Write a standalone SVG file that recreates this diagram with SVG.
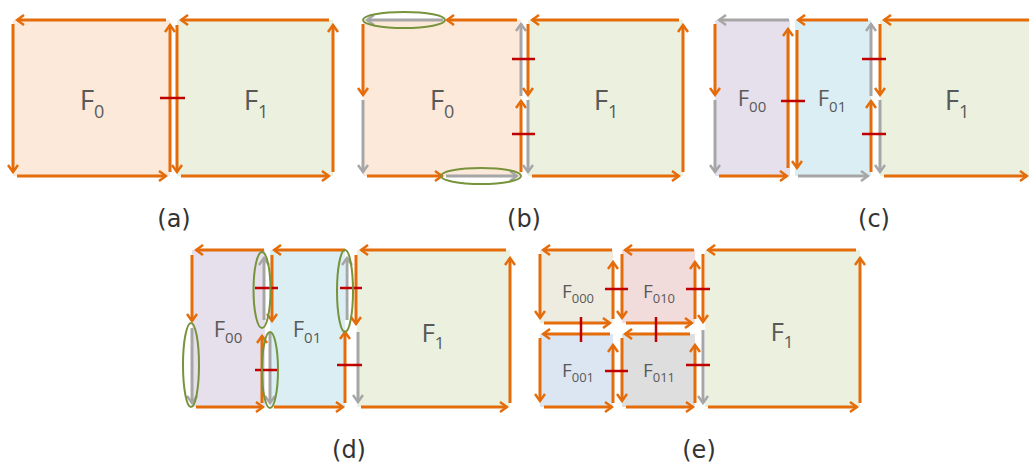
<svg xmlns="http://www.w3.org/2000/svg" width="1029" height="463" viewBox="0 0 1029 463">
<defs>
<marker id="ao" markerUnits="userSpaceOnUse" markerWidth="12" markerHeight="12" refX="10" refY="6" orient="auto" viewBox="0 0 12 12"><path d="M3,1 L10,6 L3,11" fill="none" stroke="#E46C0A" stroke-width="2.5"/></marker>
<marker id="ag" markerUnits="userSpaceOnUse" markerWidth="12" markerHeight="12" refX="10" refY="6" orient="auto" viewBox="0 0 12 12"><path d="M3,1 L10,6 L3,11" fill="none" stroke="#A6A6A6" stroke-width="2.5"/></marker>
<style>
.o{fill:none;stroke:#E46C0A;stroke-width:3;marker-end:url(#ao)}
.g{fill:none;stroke:#A6A6A6;stroke-width:3;marker-end:url(#ag)}
.r{stroke:#C00000;stroke-width:2.5}
.e{fill:none;stroke:#77933C;stroke-width:2}
.lbl{font-family:"Open Sans","DejaVu Sans",sans-serif;fill:#595959;text-anchor:middle}
.cap{font-family:"DejaVu Sans",sans-serif;font-size:24px;fill:#333;text-anchor:middle}
.pe{fill:#FDE9D9}.gr{fill:#EBF1DE}.la{fill:#E6E0EC}.bl{fill:#DBEEF4}
.be{fill:#EEECE1}.pk{fill:#F2DCDB}.sb{fill:#DCE6F2}.gy{fill:#DEDEDE}
</style>
</defs>
<rect width="1029" height="463" fill="#FFFFFF"/>

<!-- Panel (a) -->
<g id="a-F0"><rect class="pe" x="13" y="20" width="157" height="156"/>
<text class="lbl" x="92" y="110" font-size="28">F<tspan font-size="18" dy="8">0</tspan></text></g>
<g id="a-F1"><rect class="gr" x="177" y="20" width="156" height="156"/>
<text class="lbl" x="256" y="110" font-size="28">F<tspan font-size="18" dy="8">1</tspan></text></g>

<!-- Panel (b) -->
<g id="b-F0"><rect class="pe" x="363" y="20" width="158" height="156"/>
<text class="lbl" x="442" y="110" font-size="28">F<tspan font-size="18" dy="8">0</tspan></text></g>
<g id="b-F1"><rect class="gr" x="528" y="20" width="155" height="156"/>
<text class="lbl" x="606" y="110" font-size="28">F<tspan font-size="18" dy="8">1</tspan></text></g>

<!-- Panel (c) -->
<g id="c-F00"><rect class="la" x="715" y="20" width="75" height="156"/>
<text class="lbl" x="752" y="106" font-size="22">F<tspan font-size="15" dy="6">00</tspan></text></g>
<g id="c-F01"><rect class="bl" x="795" y="20" width="76" height="156"/>
<text class="lbl" x="832" y="106" font-size="22">F<tspan font-size="15" dy="6">01</tspan></text></g>
<g id="c-F1"><rect class="gr" x="880" y="20" width="154" height="156"/>
<text class="lbl" x="957" y="110" font-size="28">F<tspan font-size="18" dy="8">1</tspan></text></g>

<!-- Panel (d) -->
<g id="d-F00"><rect class="la" x="192" y="250" width="73" height="157"/>
<text class="lbl" x="228" y="337" font-size="22">F<tspan font-size="15" dy="6">00</tspan></text></g>
<g id="d-F01"><rect class="bl" x="270" y="250" width="75" height="157"/>
<text class="lbl" x="307" y="337" font-size="22">F<tspan font-size="15" dy="6">01</tspan></text></g>
<g id="d-F1"><rect class="gr" x="357" y="250" width="153" height="157"/>
<text class="lbl" x="433" y="342" font-size="26">F<tspan font-size="17" dy="7">1</tspan></text></g>

<!-- Panel (e) -->
<g id="e-F000"><rect class="be" x="540" y="250" width="73" height="73"/>
<text class="lbl" x="578" y="298" font-size="19">F<tspan font-size="13" dy="5">000</tspan></text></g>
<g id="e-F010"><rect class="pk" x="622" y="250" width="73" height="73"/>
<text class="lbl" x="659" y="298" font-size="19">F<tspan font-size="13" dy="5">010</tspan></text></g>
<g id="e-F001"><rect class="sb" x="540" y="334" width="73" height="73"/>
<text class="lbl" x="578" y="377" font-size="19">F<tspan font-size="13" dy="5">001</tspan></text></g>
<g id="e-F011"><rect class="gy" x="622" y="334" width="73" height="73"/>
<text class="lbl" x="659" y="377" font-size="19">F<tspan font-size="13" dy="5">011</tspan></text></g>
<g id="e-F1"><rect class="gr" x="705" y="250" width="155" height="157"/>
<text class="lbl" x="782" y="341" font-size="26">F<tspan font-size="17" dy="7">1</tspan></text></g>

<g id="connectors">
<!-- (a) -->
<path class="o" d="M166,20 L17,20"/><path class="o" d="M13,24 L13,172"/><path class="o" d="M17,176 L166,176"/><path class="o" d="M170,172 L170,25"/>
<path class="o" d="M329,20 L181,20"/><path class="o" d="M177,25 L177,172"/><path class="o" d="M181,176 L329,176"/><path class="o" d="M333,172 L333,25"/>
<!-- (b) -->
<path class="o" d="M517,20 L447,20"/><path class="g" d="M443,20 L367,20"/>
<path class="o" d="M363,24 L363,95"/><path class="g" d="M363,100 L363,172"/>
<path class="o" d="M367,176 L442,176"/><path class="g" d="M446,176 L517,176"/>
<path class="g" d="M521,96 L521,24"/><path class="o" d="M521,172 L521,101"/>
<path class="o" d="M679,20 L532,20"/><path class="o" d="M528,24 L528,95"/><path class="g" d="M528,100 L528,172"/>
<path class="o" d="M532,176 L679,176"/><path class="o" d="M683,172 L683,25"/>
<!-- (c) -->
<path class="g" d="M789,20 L719,20"/><path class="o" d="M715,24 L715,95"/><path class="g" d="M715,100 L715,172"/>
<path class="o" d="M719,176 L787,176"/><path class="o" d="M788,168 L788,29"/>
<path class="o" d="M797,30 L797,168"/><path class="o" d="M868,20 L798,20"/><path class="g" d="M798,176 L868,176"/>
<path class="g" d="M871,96 L871,24"/><path class="o" d="M871,172 L871,101"/>
<path class="o" d="M880,24 L880,95"/><path class="g" d="M880,100 L880,172"/>
<path class="o" d="M1036,20 L884,20"/><path class="o" d="M884,176 L1027,176"/>
<!-- (d) -->
<path class="o" d="M264,250 L196,250"/><path class="o" d="M192,255 L192,321"/><path class="g" d="M192,328 L192,403"/>
<path class="o" d="M196,407 L263,407"/><path class="g" d="M264,320 L264,258"/><path class="o" d="M262,403 L262,336"/>
<path class="o" d="M272,255 L272,321"/><path class="g" d="M270,332 L270,403"/>
<path class="o" d="M345,250 L274,250"/><path class="o" d="M274,407 L343,407"/>
<path class="g" d="M347,320 L347,258"/><path class="o" d="M345,403 L345,332"/>
<path class="o" d="M356,255 L356,324"/><path class="g" d="M358,332 L358,402"/>
<path class="o" d="M506,250 L361,250"/><path class="o" d="M510,403 L510,258"/><path class="o" d="M361,407 L507,407"/>
<!-- (e) -->
<path class="o" d="M612,250 L543,250"/><path class="o" d="M540,254 L540,318"/><path class="o" d="M544,323 L610,323"/><path class="o" d="M613,319 L613,262"/>
<path class="o" d="M694,250 L625,250"/><path class="o" d="M622,254 L622,318"/><path class="o" d="M626,323 L692,323"/><path class="o" d="M695,319 L695,262"/>
<path class="o" d="M610,334 L543,334"/><path class="o" d="M540,338 L540,401"/><path class="o" d="M544,407 L612,407"/><path class="o" d="M613,403 L613,345"/>
<path class="o" d="M690,334 L625,334"/><path class="o" d="M622,338 L622,401"/><path class="o" d="M626,407 L693,407"/><path class="o" d="M695,403 L695,345"/>
<path class="o" d="M856,250 L708,250"/><path class="o" d="M703,254 L703,322"/><path class="g" d="M703,330 L703,403"/>
<path class="o" d="M860,403 L860,258"/><path class="o" d="M708,407 L857,407"/>
</g>

<g id="cuts">
<path class="r" d="M160,98 L185,98"/>
<path class="r" d="M512,59 L535,59"/><path class="r" d="M512,134 L535,134"/>
<path class="r" d="M781,101 L805,101"/><path class="r" d="M862,59 L886,59"/><path class="r" d="M862,134 L886,134"/>
<path class="r" d="M255,288 L278,288"/><path class="r" d="M255,370 L278,370"/><path class="r" d="M340,288 L362,288"/><path class="r" d="M337,365 L362,365"/>
<path class="r" d="M605,289 L628,289"/><path class="r" d="M686,289 L710,289"/><path class="r" d="M605,371 L628,371"/><path class="r" d="M686,365 L710,365"/>
<path class="r" d="M581,317 L581,342"/><path class="r" d="M656,317 L656,342"/>
</g>

<g id="highlights">
<ellipse class="e" cx="404" cy="20" rx="41" ry="8"/>
<ellipse class="e" cx="481" cy="176" rx="40" ry="8"/>
<ellipse class="e" cx="191" cy="365" rx="8" ry="42"/>
<ellipse class="e" cx="262" cy="290" rx="8.5" ry="38"/>
<ellipse class="e" cx="270" cy="370" rx="8" ry="38"/>
<ellipse class="e" cx="345" cy="291" rx="8" ry="41"/>
</g>

<g id="captions">
<text class="cap" x="174" y="227">(a)</text>
<text class="cap" x="524" y="227">(b)</text>
<text class="cap" x="874" y="227">(c)</text>
<text class="cap" x="349" y="458">(d)</text>
<text class="cap" x="699" y="458">(e)</text>
</g>
</svg>
